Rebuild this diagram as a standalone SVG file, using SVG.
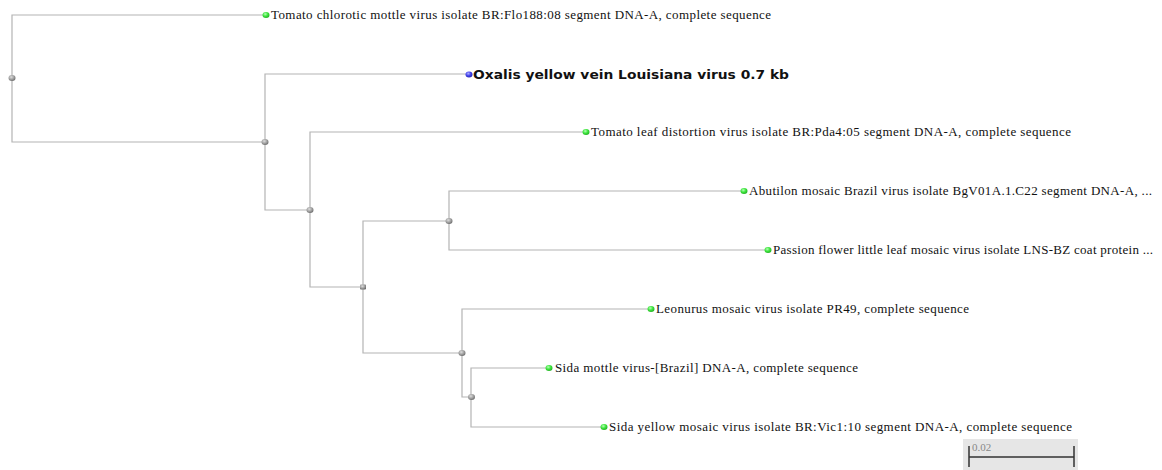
<svg xmlns="http://www.w3.org/2000/svg" width="1162" height="470" viewBox="0 0 1162 470">
<defs>
<radialGradient id="gg" cx="0.4" cy="0.35" r="0.7"><stop offset="0" stop-color="#b8ffb8"/><stop offset="0.5" stop-color="#3de63d"/><stop offset="1" stop-color="#22aa22"/></radialGradient>
<radialGradient id="gb" cx="0.4" cy="0.35" r="0.7"><stop offset="0" stop-color="#b0b0ff"/><stop offset="0.5" stop-color="#4444ee"/><stop offset="1" stop-color="#2222aa"/></radialGradient>
<radialGradient id="gr" cx="0.4" cy="0.35" r="0.7"><stop offset="0" stop-color="#dddddd"/><stop offset="0.6" stop-color="#999999"/><stop offset="1" stop-color="#666666"/></radialGradient>
</defs>
<style>
.br{fill:none;stroke:#b4b4b4;stroke-width:1.2}
.lf{fill:url(#gg)}
.in{fill:url(#gr)}
.t{font-family:"Liberation Serif",serif;font-size:13px;fill:#111}
.b{font-family:"DejaVu Sans",sans-serif;font-size:13px;font-weight:bold;fill:#111}
</style>
<rect width="1162" height="470" fill="#fff"/>
<g id="connectors">
<path class="br" d="M265,15 H12 V142 H265"/>
<path class="br" d="M468,74 H265 V210 H310"/>
<path class="br" d="M585,132 H310 V287 H363"/>
<path class="br" d="M449,221 H363 V353 H462"/>
<path class="br" d="M743,191 H449 V250 H767"/>
<path class="br" d="M650,309 H462 V397 H471"/>
<path class="br" d="M548,368 H471 V427 H603"/>
</g>
<g id="internal-nodes">
<ellipse class="in" cx="12" cy="78" rx="3.5" ry="3"/>
<ellipse class="in" cx="265" cy="142" rx="3.5" ry="3"/>
<ellipse class="in" cx="310" cy="210" rx="3.5" ry="3"/>
<rect class="in" x="360" y="284.5" width="6" height="5" rx="1"/>
<ellipse class="in" cx="449" cy="221" rx="3.5" ry="3"/>
<ellipse class="in" cx="462" cy="353" rx="3.5" ry="3"/>
<ellipse class="in" cx="471.5" cy="397" rx="3.5" ry="3"/>
</g>
<g id="leaf1"><ellipse class="lf" cx="266" cy="15" rx="3.5" ry="3"/><text class="t" x="271" y="19" textLength="500" lengthAdjust="spacing">Tomato chlorotic mottle virus isolate BR:Flo188:08 segment DNA-A, complete sequence</text></g>
<g id="leaf2"><ellipse cx="469" cy="74.5" rx="3.5" ry="3" fill="url(#gb)"/><text class="b" x="473" y="79" textLength="316" lengthAdjust="spacingAndGlyphs">Oxalis yellow vein Louisiana virus 0.7 kb</text></g>
<g id="leaf3"><ellipse class="lf" cx="586" cy="132" rx="3.5" ry="3"/><text class="t" x="591" y="136" textLength="480" lengthAdjust="spacing">Tomato leaf distortion virus isolate BR:Pda4:05 segment DNA-A, complete sequence</text></g>
<g id="leaf4"><ellipse class="lf" cx="744" cy="191" rx="3.5" ry="3"/><text class="t" x="749" y="195" textLength="403" lengthAdjust="spacing">Abutilon mosaic Brazil virus isolate BgV01A.1.C22 segment DNA-A, ...</text></g>
<g id="leaf5"><ellipse class="lf" cx="768" cy="250" rx="3.5" ry="3"/><text class="t" x="773" y="254" textLength="380" lengthAdjust="spacing">Passion flower little leaf mosaic virus isolate LNS-BZ coat protein ...</text></g>
<g id="leaf6"><ellipse class="lf" cx="651" cy="309" rx="3.5" ry="3"/><text class="t" x="656" y="313" textLength="313" lengthAdjust="spacing">Leonurus mosaic virus isolate PR49, complete sequence</text></g>
<g id="leaf7"><ellipse class="lf" cx="549" cy="368" rx="3.5" ry="3"/><text class="t" x="555" y="372" textLength="303" lengthAdjust="spacing">Sida mottle virus-[Brazil] DNA-A, complete sequence</text></g>
<g id="leaf8"><ellipse class="lf" cx="604" cy="427" rx="3.5" ry="3"/><text class="t" x="609" y="431" textLength="463" lengthAdjust="spacing">Sida yellow mosaic virus isolate BR:Vic1:10 segment DNA-A, complete sequence</text></g>
<g id="scale">
<rect x="963" y="439" width="115" height="31" fill="#e6e6e6"/>
<path d="M969,446 V467 M1074,446 V467 M969,457 H1074" stroke="#333" stroke-width="1.5" fill="none"/>
<text x="972" y="451" font-family="Liberation Serif,serif" font-size="11" fill="#888">0.02</text>
</g>
</svg>
